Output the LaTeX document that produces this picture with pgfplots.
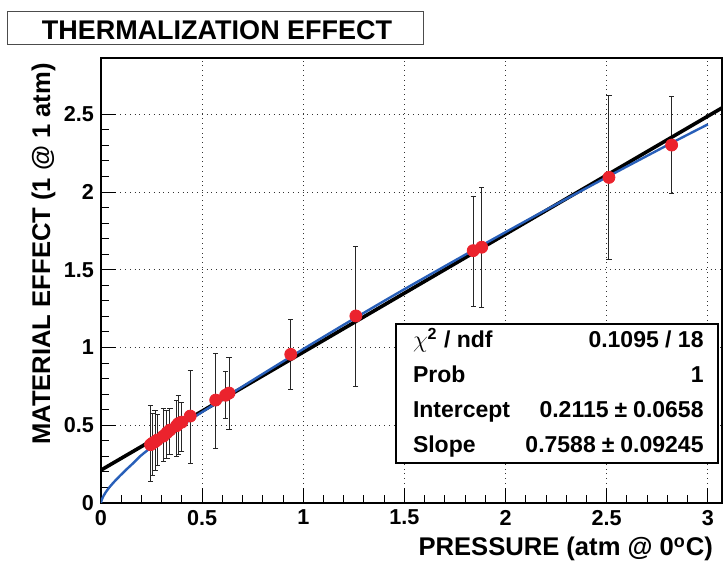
\documentclass[border=0pt]{standalone}
\usepackage{pgfplots}
\usepackage{pgfplotstable}
\pgfplotsset{compat=1.18}
\usepackage{fontspec}
\setmainfont{Liberation Sans}
\definecolor{fitblue}{RGB}{40,95,185}
\definecolor{ptred}{RGB}{235,35,45}

% pressure, material effect, error up, error down
\pgfplotstableread{
x     y     ep    em
0.245 0.375 0.255 0.238
0.255 0.385 0.192 0.205
0.267 0.394 0.204 0.182
0.278 0.405 0.161 0.161
0.308 0.430 0.175 0.164
0.326 0.452 0.146 0.163
0.341 0.469 0.140 0.154
0.374 0.497 0.161 0.195
0.382 0.510 0.180 0.195
0.399 0.520 0.125 0.190
0.441 0.559 0.292 0.304
0.567 0.662 0.301 0.310
0.616 0.693 0.152 0.148
0.633 0.707 0.230 0.233
0.938 0.956 0.225 0.229
1.260 1.203 0.445 0.455
1.840 1.623 0.347 0.361
1.882 1.645 0.385 0.387
2.511 2.094 0.525 0.531
2.821 2.302 0.311 0.310
}\pressuredata

\begin{document}
\begin{tikzpicture}
\useasboundingbox (-50.5pt,-29pt) rectangle (311.5pt,251.5pt);
\begin{axis}[
  at={(0,0)}, anchor=south west,
  scale only axis, width=310.5pt, height=222.5pt,
  xmin=0, xmax=3.07, ymin=0, ymax=2.862,
  xtick={0,0.5,...,3}, ytick={0,0.5,...,2.5},
  minor tick num=4,
  tick align=inside, xtick pos=bottom, ytick pos=left,
  major tick length=7.5pt, minor tick length=3.75pt,
  tick style={black, line width=0.5pt},
  axis line style={line width=0.8pt},
  grid=major, major grid style={black!80, dotted, line width=0.5pt},
  /pgf/number format/assume math mode=true,
  ticklabel style={font=\bfseries\fontsize{10.8}{12}\selectfont},
  xlabel={PRESSURE (atm @ 0\textsuperscript{o}C)},
  ylabel={MATERIAL EFFECT (1 @ 1 atm)},
  label style={font=\bfseries\fontsize{12.8}{14}\selectfont},
  xlabel style={at={(axis description cs:0.9968,-0.119)}, anchor=base east},
  ylabel style={at={(axis description cs:-0.0821,1.004)}, anchor=base east},
]
% measured points
\addplot[only marks, mark=*, mark size=3pt, color=ptred,
  error bars/.cd, y dir=both, y explicit,
  error mark=-,
  error bar style={black!85, line width=0.5pt},
  error mark options={rotate=90, black!85, mark size=1.3pt, line width=0.5pt}]
  table[x=x, y=y, y error plus=ep, y error minus=em] {\pressuredata};
% linear fit
\addplot[black, line width=1.8pt] coordinates {(0,0.2115) (3.07,2.541)};
% blue curve
\addplot[fitblue, line width=1.2pt, smooth] coordinates {
  (0,0) (0.004,0.022) (0.011,0.042) (0.025,0.072) (0.044,0.105)
  (0.07,0.143) (0.094,0.175) (0.13,0.221) (0.16,0.257) (0.193,0.30)
  (0.25,0.36) (0.3,0.41) (0.4,0.50) (0.5,0.585) (0.75,0.79) (1.0,0.99)
  (1.25,1.185) (1.5,1.375) (1.88,1.655) (2.2,1.885) (2.51,2.102)
  (2.82,2.315) (3.0,2.435)};
\end{axis}
% title box
\draw[black!70, line width=0.5pt, fill=white] (-46.5pt,229pt) rectangle (161pt,245.5pt);
\node[anchor=base, inner sep=0pt, font=\bfseries\fontsize{13.5}{15}\selectfont]
  at (58pt,231.5pt) {THERMALIZATION EFFECT};
% fit statistics box
\draw[black, line width=0.6pt, fill=white] (147.5pt,20pt) rectangle (308.5pt,89.5pt);
\begin{scope}[every node/.style={inner sep=0pt, font=\bfseries\fontsize{11.5}{13}\selectfont}]
\node[anchor=base west] at (155.8pt,77.5pt) {$\chi$\textsuperscript{2} / ndf};
\node[anchor=base east] at (301.5pt,77.5pt) {0.1095 / 18};
\node[anchor=base west] at (155.8pt,60pt) {Prob};
\node[anchor=base east] at (301.5pt,60pt) {1};
\node[anchor=base west] at (155.8pt,42.5pt) {Intercept};
\node[anchor=base east] at (301.5pt,42.5pt) {0.2115\kern3pt±\kern3pt0.0658};
\node[anchor=base west] at (155.8pt,25pt) {Slope};
\node[anchor=base east] at (301.5pt,25pt) {0.7588\kern3pt±\kern3pt0.09245};
\end{scope}
\end{tikzpicture}
\end{document}
